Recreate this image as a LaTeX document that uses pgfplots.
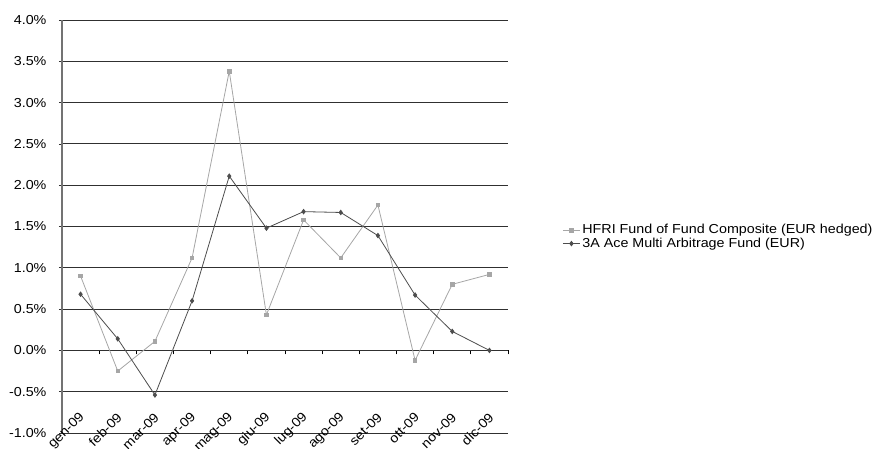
\documentclass[border=0pt]{standalone}
\usepackage{pgfplots}
\pgfplotsset{compat=1.18}
\usepackage{fontspec}
\setmainfont[FakeStretch=1.1]{Liberation Sans}
\definecolor{hfri}{HTML}{A6A6A6}
\definecolor{ace}{HTML}{4D4D4D}
\definecolor{gridc}{HTML}{303030}

\begin{document}
\begin{tikzpicture}[x=1pt,y=1pt]
\fontsize{13}{15}\selectfont
% zero line with the month ticks
\begin{axis}[
  scale only axis, width=446pt, height=413pt,
  xmin=-0.5, xmax=11.5, ymin=-1, ymax=4,
  axis x line=middle, axis y line=none,
  axis line style={-, black, line width=0.9pt},
  xtick={-0.5,0.5,...,11.5}, xticklabels={},
  tick align=outside, major tick length=4pt,
  xtick style={black, line width=0.8pt},
  ytick=\empty,
]
\end{axis}
\begin{axis}[
  scale only axis, width=446pt, height=413pt,
  xmin=-0.5, xmax=11.5, ymin=-1, ymax=4,
  axis y line*=left, axis x line*=bottom,
  x axis line style={draw=none},
  y axis line style={-, gray!90!black, line width=1.3pt},
  xtick={0,...,11},
  xticklabels={gen-09,feb-09,mar-09,apr-09,mag-09,giu-09,lug-09,ago-09,set-09,ott-09,nov-09,dic-09},
  xtick style={draw=none},
  xticklabel style={yshift=24pt, xshift=5pt, rotate=45, anchor=east},
  ytick={-1,-0.5,...,4},
  ymajorgrids, grid style={gridc, line width=0.9pt},
  ytick style={gridc, line width=0.8pt},
  tick align=outside, major tick length=3pt,
  /pgf/number format/assume math mode=true,
  yticklabel={\pgfmathprintnumber[fixed,fixed zerofill,precision=1]{\tick}\%},
  yticklabel style={xshift=-8pt},
  legend style={draw=none, fill=none, at={(1.115,0.515)}, anchor=north west,
    font=\fontsize{13}{14}\selectfont, row sep=-2pt},
  legend cell align=left,
]
\addplot[hfri, line width=0.8pt, mark=square*, mark size=1.8pt, mark options={hfri}]
  coordinates {(0,0.90) (1,-0.25) (2,0.11) (3,1.12) (4,3.38) (5,0.43) (6,1.58) (7,1.12) (8,1.76) (9,-0.12) (10,0.80) (11,0.92)};
\addlegendentry{HFRI Fund of Fund Composite (EUR hedged)}
\addplot[ace, line width=0.8pt, mark=diamond*, mark size=2.2pt, mark options={ace}]
  coordinates {(0,0.68) (1,0.14) (2,-0.54) (3,0.60) (4,2.11) (5,1.48) (6,1.68) (7,1.67) (8,1.39) (9,0.67) (10,0.23) (11,0.00)};
\addlegendentry{3A Ace Multi Arbitrage Fund (EUR)}
\end{axis}
\pgfresetboundingbox
\path (-62pt,-15pt) rectangle (812pt,433pt);
\end{tikzpicture}
\end{document}
